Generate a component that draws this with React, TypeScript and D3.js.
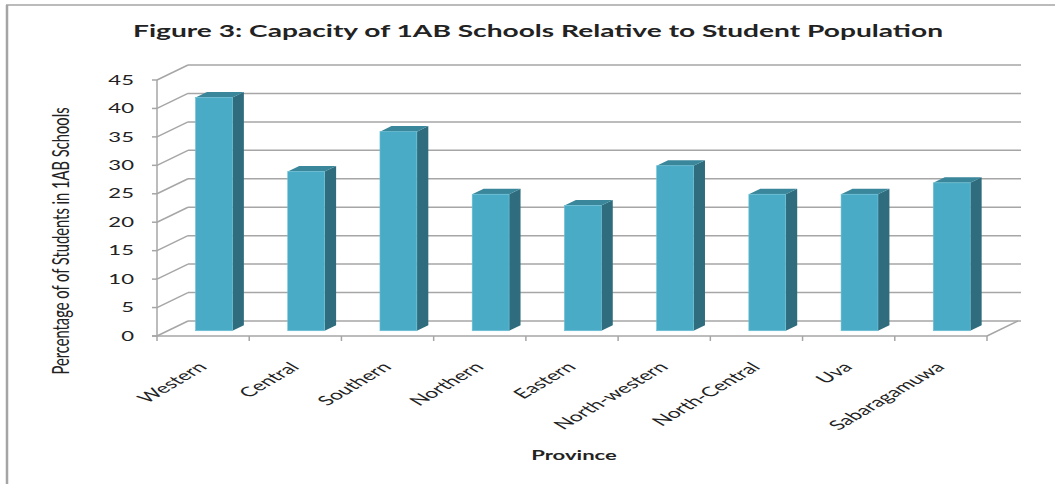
import React from "react";
import * as d3 from "d3";

const categories = ["Western", "Central", "Southern", "Northern", "Eastern", "North-western", "North-Central", "Uva", "Sabaragamuwa"];
const values = [41, 28, 35, 24, 22, 29, 24, 24, 26];
const yTicks = [0, 5, 10, 15, 20, 25, 30, 35, 40, 45];
const titleText = "Figure 3: Capacity of 1AB Schools Relative to Student Population";
const yTitle = "Percentage of of Students in 1AB Schools";
const xTitle = "Province";

const W = 1055, H = 484;
const X0 = 157, X1 = 987, Y0 = 336, YT = 80;
const DX = 31, DY = -15;
const F0 = 0.35, FD = 0.37;
const SX = 1.7;
const GRID = "#a6a6a6";
const FONT = "Lato, 'Open Sans', sans-serif";

export default function App() {
  const x = d3.scaleBand<string>().domain(categories).range([X0, X1]).paddingInner(0).paddingOuter(0);
  const y = d3.scaleLinear().domain([0, 45]).range([Y0, YT]);
  const bwBand = x.bandwidth();
  const bw = bwBand * 0.4;
  const bounds = categories.map((c) => x(c) as number).concat([X1]);

  return (
    <svg width={W} height={H} style={{ position: "absolute", left: 0, top: 0, background: "#fff" }} fontFamily={FONT}>
      <rect x={0} y={0} width={W} height={H} fill="#fff" />
      {/* frame */}
      <line x1={7} y1={5} x2={7} y2={H} stroke="#a5a5a5" strokeWidth={2.5} />
      <line x1={6} y1={5} x2={W} y2={5} stroke="#a5a5a5" strokeWidth={1.5} />

      {/* title */}
      <text x={133} y={37} fontSize={17} fontWeight="bold" fill="#222" textLength={810} lengthAdjust="spacingAndGlyphs">
        {titleText}
      </text>

      {/* back wall gridlines */}
      {yTicks.map((v) => (
        <line key={"g" + v} x1={X0 + DX} y1={y(v) + DY} x2={X1 + DX + 3} y2={y(v) + DY} stroke={GRID} strokeWidth={1.5} />
      ))}
      {/* left wall diagonals */}
      {yTicks.map((v) => (
        <line key={"d" + v} x1={X0} y1={y(v)} x2={X0 + DX} y2={y(v) + DY} stroke={GRID} strokeWidth={1.5} />
      ))}
      {/* floor right diagonal */}
      <line x1={X1} y1={Y0} x2={X1 + DX} y2={Y0 + DY} stroke={GRID} strokeWidth={1.5} />

      {/* bars */}
      {categories.map((c, i) => {
        const left = (x(c) as number) + (bwBand - bw) / 2 + F0 * DX;
        const top = y(values[i]) + F0 * DY;
        const bottom = y(0) + F0 * DY;
        const ddx = FD * DX, ddy = FD * DY;
        const right = left + bw;
        return (
          <g key={c}>
            <polygon points={`${right},${top} ${right + ddx},${top + ddy} ${right + ddx},${bottom + ddy} ${right},${bottom}`} fill="#2f6c7d" />
            <polygon points={`${left},${top} ${left + ddx},${top + ddy} ${right + ddx},${top + ddy} ${right},${top}`} fill="#3a879c" />
            <rect x={left} y={top} width={bw} height={bottom - top} fill="#4aabc6" stroke="#6cc0d6" strokeWidth={0.6} />
          </g>
        );
      })}

      {/* front axes */}
      <line x1={X0} y1={YT} x2={X0} y2={Y0} stroke={GRID} strokeWidth={1.5} />
      {yTicks.map((v) => (
        <line key={"yt" + v} x1={X0 - 5} y1={y(v)} x2={X0} y2={y(v)} stroke={GRID} strokeWidth={1.5} />
      ))}
      <line x1={X0 - 5} y1={Y0} x2={X1} y2={Y0} stroke={GRID} strokeWidth={1.5} />
      {bounds.map((b, i) => (
        <line key={"xt" + i} x1={b} y1={Y0} x2={b} y2={Y0 + 5} stroke={GRID} strokeWidth={1.5} />
      ))}

      {/* y tick labels */}
      {yTicks.map((v) => (
        <text key={"yl" + v} transform={`translate(134,${y(v) + 4.7}) scale(${SX},1)`} textAnchor="end" fontSize={13} fill="#222">
          {v}
        </text>
      ))}

      {/* category labels */}
      {categories.map((c) => (
        <text key={"cl" + c} transform={`translate(${(x(c) as number) + bwBand / 2 + 5},368) scale(${SX},1) rotate(-45)`} textAnchor="end" fontSize={13.5} fill="#222">
          {c}
        </text>
      ))}

      {/* axis titles */}
      <text transform={`translate(69,241) scale(${SX},1) rotate(-90)`} textAnchor="middle" fontSize={13} fill="#222" textLength={267} lengthAdjust="spacingAndGlyphs">
        {yTitle}
      </text>
      <text transform={`translate(574,460) scale(${SX},1)`} textAnchor="middle" fontSize={13} fontWeight="bold" fill="#222">
        {xTitle}
      </text>
    </svg>
  );
}
